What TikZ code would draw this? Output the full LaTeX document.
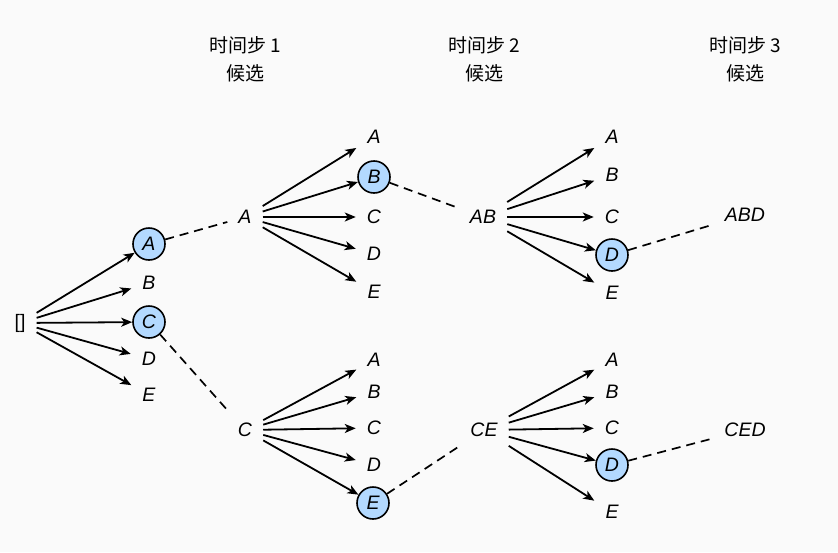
\documentclass[tikz,border=0pt]{standalone}
\usepackage{fontspec}
\setmainfont{Liberation Sans}
\newfontfamily\cjk{Noto Sans CJK SC}
\usetikzlibrary{arrows.meta}
\definecolor{bgc}{RGB}{250,250,250}
\definecolor{selc}{RGB}{179,217,255}
\begin{document}
\begin{tikzpicture}[x=1pt,y=-1pt,
  lbl/.style={inner xsep=11pt,inner ysep=12pt,font=\fontsize{19.5}{22}\selectfont\itshape},
  sel/.style={circle,draw,line width=1.6pt,fill=selc,minimum size=32pt,inner sep=0pt,font=\fontsize{19.5}{22}\selectfont\itshape},
  hdr/.style={font=\fontsize{19}{21}\selectfont\cjk,align=center,inner sep=0pt},
  arr/.style={line width=1.8pt,-{Stealth[length=11pt,width=9pt,inset=3pt]}},
  dsh/.style={line width=1.7pt,dash pattern=on 9pt off 6pt}]
\path[fill=bgc] (0,0) rectangle (838,552);
% headers
\node[hdr] (h1a) at (245,45) {时间步 1};
\node[hdr] (h1b) at (245,73) {候选};
\node[hdr] (h2a) at (484,45) {时间步 2};
\node[hdr] (h2b) at (484,73) {候选};
\node[hdr] (h3a) at (745,45) {时间步 3};
\node[hdr] (h3b) at (745,73) {候选};
% root
\node[lbl,font=\fontsize{19.5}{22}\selectfont] (r) at (20,323) {[]};
% level 1
\node[sel] (a1) at (149,244) {A};
\node[lbl] (b1) at (149,283) {B};
\node[sel] (c1) at (149,322) {C};
\node[lbl] (d1) at (149,359) {D};
\node[lbl] (e1) at (149,395) {E};
\foreach \t in {a1,b1,c1,d1,e1} \draw[arr] (r) -- (\t);
% level 2 sources
\node[lbl] (sA) at (245,217) {A};
\node[lbl] (sC) at (245,430) {C};
\draw[dsh] (a1) -- (sA);
\draw[dsh] (c1) -- (sC);
% level 2 top children
\node[lbl] (tA) at (374,137) {A};
\node[sel] (tB) at (374,177) {B};
\node[lbl] (tC) at (374,217) {C};
\node[lbl] (tD) at (374,254) {D};
\node[lbl] (tE) at (374,292) {E};
\foreach \t in {tA,tB,tC,tD,tE} \draw[arr] (sA) -- (\t);
% level 2 bottom children
\node[lbl] (bA) at (374,360) {A};
\node[lbl] (bB) at (374,392) {B};
\node[lbl] (bC) at (374,428) {C};
\node[lbl] (bD) at (374,465) {D};
\node[sel] (bE) at (373,503) {E};
\foreach \t in {bA,bB,bC,bD,bE} \draw[arr] (sC) -- (\t);
% level 3 sources
\node[lbl] (sAB) at (483,217) {AB};
\node[lbl] (sCE) at (484,430) {CE};
\draw[dsh] (tB) -- (sAB);
\draw[dsh] (bE) -- (sCE);
% level 3 top children
\node[lbl] (uA) at (612,137) {A};
\node[lbl] (uB) at (612,175) {B};
\node[lbl] (uC) at (612,217) {C};
\node[sel] (uD) at (612,255) {D};
\node[lbl] (uE) at (612,293) {E};
\foreach \t in {uA,uB,uC,uD,uE} \draw[arr] (sAB) -- (\t);
% level 3 bottom children
\node[lbl] (vA) at (612,360) {A};
\node[lbl] (vB) at (612,392) {B};
\node[lbl] (vC) at (612,428) {C};
\node[sel] (vD) at (612,465) {D};
\node[lbl] (vE) at (612,512) {E};
\foreach \t in {vA,vB,vC,vD,vE} \draw[arr] (sCE) -- (\t);
% finals
\node[lbl] (fABD) at (745,215) {ABD};
\node[lbl] (fCED) at (745,430) {CED};
\draw[dsh] (uD) -- (fABD);
\draw[dsh] (vD) -- (fCED);
\end{tikzpicture}
\end{document}
